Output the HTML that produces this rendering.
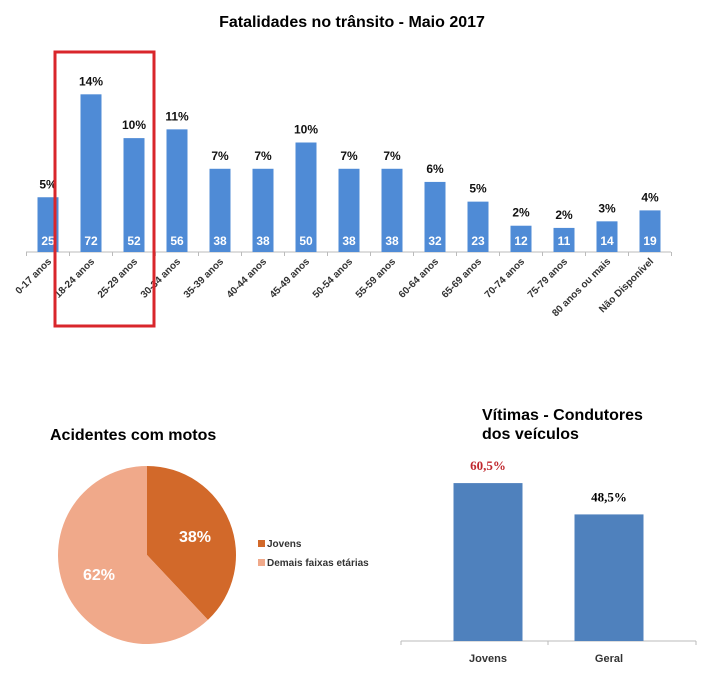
<!DOCTYPE html>
<html><head><meta charset="utf-8">
<style>
html,body{margin:0;padding:0;background:#fff;width:704px;height:696px;overflow:hidden}
svg{display:block;font-family:"Liberation Sans",Arial,sans-serif}
</style></head>
<body>
<svg id="c" width="704" height="696" viewBox="0 0 704 696" xmlns="http://www.w3.org/2000/svg">
<text x="352" y="27" text-anchor="middle" font-size="16" font-weight="bold" fill="#000">Fatalidades no trânsito - Maio 2017</text>
<g id="topChart"></g>
<rect x="55" y="52" width="99" height="274" fill="none" stroke="#D9262B" stroke-width="3"/>
<text x="50" y="440" font-size="16" font-weight="bold" fill="#000">Acidentes com motos</text>
<g id="pieChart"></g>
<text x="482" y="420" font-size="16" font-weight="bold" fill="#000"><tspan x="482">Vítimas - Condutores</tspan><tspan x="482" dy="19">dos veículos</tspan></text>
<g id="botChart"></g>
</svg>
<script>
const ageCats=["0-17 anos","18-24 anos","25-29 anos","30-34 anos","35-39 anos","40-44 anos","45-49 anos","50-54 anos","55-59 anos","60-64 anos","65-69 anos","70-74 anos","75-79 anos","80 anos ou mais","Não Disponível"];
const ageCounts=[25,72,52,56,38,38,50,38,38,32,23,12,11,14,19];
const agePcts=["5%","14%","10%","11%","7%","7%","10%","7%","7%","6%","5%","2%","2%","3%","4%"];
const pieLabels=["Jovens","Demais faixas etárias"];
const pieValues=[38,62];
const drvCats=["Jovens","Geral"];
const drvValues=[60.5,48.5];
const drvLabels=["60,5%","48,5%"];

const NS="http://www.w3.org/2000/svg";
function mk(p,t,a){const e=document.createElementNS(NS,t);for(const k in a)e.setAttribute(k,a[k]);p.appendChild(e);return e;}

const topG=document.getElementById('topChart');
const base=252, step=43, x0=48, ky=2.19;
const tx=i=>x0+i*step, ty=v=>base-v*ky;
const ax=mk(topG,'line',{x1:26,y1:base,x2:671,y2:base,stroke:'#bbb','stroke-width':1});


for(let i=0;i<=ageCats.length;i++){
  const t=mk(topG,'line',{x1:tx(i)-step/2,y1:base,x2:tx(i)-step/2,y2:base+4,stroke:'#bbb'});
  
  
}
ageCats.forEach((c,i)=>{
  const v=ageCounts[i],x=tx(i);
  const b=mk(topG,'rect',{x:x-10.5,y:ty(v),width:21,height:base-ty(v),fill:'#4F8BD6'});
  
  
  const n=mk(topG,'text',{x:x,y:base-7,'text-anchor':'middle','font-size':12,'font-weight':'bold',fill:'#fff'});
  n.textContent=v;
  
  
  const p=mk(topG,'text',{x:x,y:ty(v)-9,'text-anchor':'middle','font-size':12,'font-weight':'bold',fill:'#111'});
  p.textContent=agePcts[i];
  
  
  const l=mk(topG,'text',{x:0,y:0,'text-anchor':'end','font-size':10,'font-weight':'bold',fill:'#333',transform:`translate(${x+4},${base+10}) rotate(-45)`});
  l.textContent=c;
  
  
});

const pieG=document.getElementById('pieChart');
const cx=147,cy=555,r=89,cols=['#D2692A','#F0A98A'];
const tot=pieValues.reduce((a,b)=>a+b,0);
let ang=-Math.PI/2;
pieValues.forEach((v,i)=>{
  const a2=ang+v/tot*2*Math.PI;
  const large=(a2-ang)>Math.PI?1:0;
  const d=`M${cx},${cy}L${cx+r*Math.cos(ang)},${cy+r*Math.sin(ang)}A${r},${r} 0 ${large} 1 ${cx+r*Math.cos(a2)},${cy+r*Math.sin(a2)}Z`;
  const s=mk(pieG,'path',{d:d,fill:cols[i]});
  
  
  const m=(ang+a2)/2;
  const t=mk(pieG,'text',{x:cx+r*0.58*Math.cos(m),y:cy+r*0.58*Math.sin(m)+6,'text-anchor':'middle','font-size':16,'font-weight':'bold',fill:'#fff'});
  t.textContent=v+'%';
  
  
  const ly=547+i*19;
  const sw=mk(pieG,'rect',{x:258,y:ly-7,width:7,height:7,fill:cols[i]});
  
  
  const lt=mk(pieG,'text',{x:267,y:ly,'font-size':10,'font-weight':'bold',fill:'#333'});
  lt.textContent=pieLabels[i];
  
  
  ang=a2;
});

const botG=document.getElementById('botChart');
const bb=641, bk=2.61, bx=[488,609];
const bax=mk(botG,'line',{x1:401,y1:bb,x2:696,y2:bb,stroke:'#bbb'});


[401,548,696].forEach(x=>{const t=mk(botG,'line',{x1:x,y1:bb,x2:x,y2:bb+4,stroke:'#bbb'});
  
  });
drvCats.forEach((c,i)=>{
  const h=drvValues[i]*bk;
  const b=mk(botG,'rect',{x:bx[i]-34.5,y:bb-h,width:69,height:h,fill:'#4F81BD'});
  
  
  const v=mk(botG,'text',{x:bx[i],y:bb-h-13,'text-anchor':'middle','font-size':13,'font-family':'Liberation Serif, serif','font-weight':'bold',fill:i===0?'#C0272D':'#000'});
  v.textContent=drvLabels[i];
  
  
  const l=mk(botG,'text',{x:bx[i],y:bb+21,'text-anchor':'middle','font-size':11,'font-weight':'bold',fill:'#333'});
  l.textContent=c;
  
  
});
</script>
</body></html>
